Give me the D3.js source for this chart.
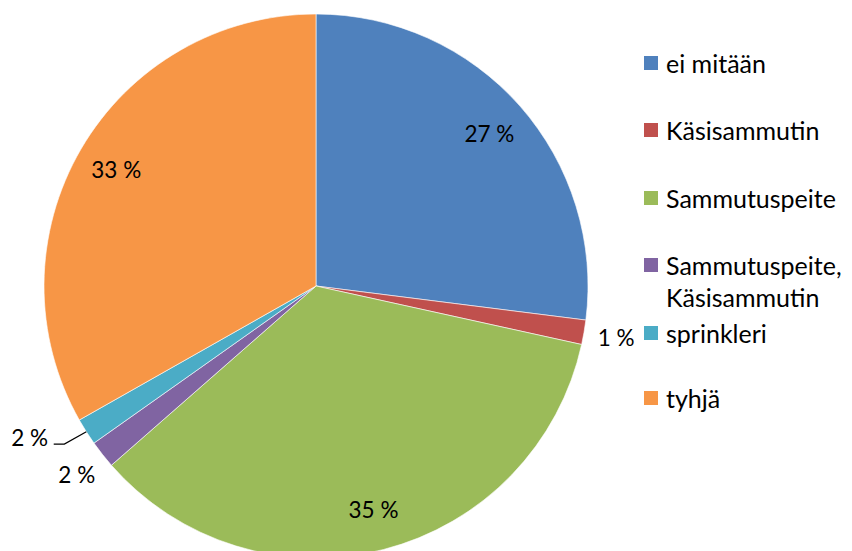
<!DOCTYPE html>
<html>
<head>
<meta charset="utf-8">
<script src="https://cdnjs.cloudflare.com/ajax/libs/d3/7.8.5/d3.min.js"></script>
<style>
  body { margin: 0; background: #fff; }
  text { font-family: Lato, "Liberation Sans", sans-serif; fill: #000; }
</style>
</head>
<body>
<div id="chart"></div>
<script>
var categories = ["ei mitään", "Käsisammutin", "Sammutuspeite", "Sammutuspeite, Käsisammutin", "sprinkleri", "tyhjä"];
var values = [27.0, 1.45, 35.1, 1.65, 1.6, 33.2];
var colors = ["#4F81BD", "#C0504D", "#9BBB59", "#8064A2", "#4BACC6", "#F79646"];
var legendLines = [["ei mitään"], ["Käsisammutin"], ["Sammutuspeite"], ["Sammutuspeite,", "Käsisammutin"], ["sprinkleri"], ["tyhjä"]];

var W = 852, H = 551;
var cx = 316, cy = 286, r = 272;

var svg = d3.select("#chart").append("svg").attr("width", W).attr("height", H);
var g = svg.append("g").attr("transform", "translate(" + cx + "," + cy + ")");

var total = d3.sum(values);
var pie = d3.pie().sort(null).value(function(d){ return d; });
var arcs = pie(values);
var arc = d3.arc().innerRadius(0).outerRadius(r);

g.selectAll("path.slice").data(arcs).enter().append("path")
  .attr("class", "slice")
  .attr("d", arc)
  .attr("fill", function(d, i){ return colors[i]; })
  .attr("stroke", "#fff").attr("stroke-width", 0.6);

// label placement: big slices inside, small ones outside
function labelPos(d, i) {
  var mid = (d.startAngle + d.endAngle) / 2;
  var frac = d.value / total;
  var rr = frac > 0.05 ? r * 0.85 : r * 1.12;
  if (i === 4) { mid += 0.08; rr = r * 1.19; }
  return [Math.sin(mid) * rr, -Math.cos(mid) * rr];
}

g.selectAll("text.lbl").data(arcs).enter().append("text")
  .attr("class", "lbl")
  .attr("x", function(d, i){ return labelPos(d, i)[0]; })
  .attr("y", function(d, i){ return labelPos(d, i)[1]; })
  .attr("text-anchor", "middle")
  .attr("dominant-baseline", "central")
  .style("font-size", "22.5px")
  .text(function(d){ return Math.round(d.value / total * 100) + " %"; });

// leader line for shifted sprinkleri label
var s = arcs[4];
var sm = (s.startAngle + s.endAngle) / 2;
var p0 = [Math.sin(sm) * r, -Math.cos(sm) * r];
var lp = labelPos(s, 4);
g.append("path")
  .attr("d", "M" + p0[0] + "," + p0[1] + "L" + (p0[0] - 22) + "," + (lp[1] + 7) + "L" + (lp[0] + 24) + "," + (lp[1] + 7))
  .attr("fill", "none").attr("stroke", "#000").attr("stroke-width", 1.2);

// legend
var legendY = [63, 130, 198, 265, 333, 398];
var leg = svg.append("g").attr("transform", "translate(644,0)");
legendLines.forEach(function(lines, i){
  leg.append("rect").attr("x", 0).attr("y", legendY[i] - 7).attr("width", 14).attr("height", 14).attr("fill", colors[i]);
  lines.forEach(function(t, j){
    leg.append("text").attr("x", 22).attr("y", legendY[i] + j * 32)
      .attr("dominant-baseline", "central")
      .style("font-size", "25px")
      .text(t);
  });
});
</script>
</body>
</html>
